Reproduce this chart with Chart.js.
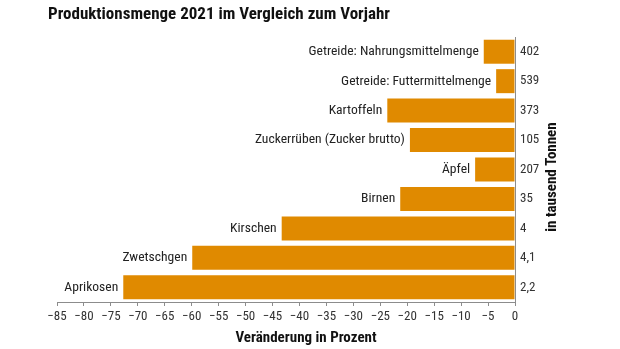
<!DOCTYPE html>
<html>
<head>
<meta charset="utf-8">
<script src="https://cdn.jsdelivr.net/npm/chart.js@4.4.0/dist/chart.umd.min.js"></script>
<style>
  html, body { margin: 0; padding: 0; background: #fff; }
  #wrap { position: relative; width: 620px; height: 349px; }
</style>
</head>
<body>
<div id="wrap"><canvas id="chart"></canvas></div>
<script>
// data
const categories = ['Getreide: Nahrungsmittelmenge', 'Getreide: Futtermittelmenge', 'Kartoffeln',
    'Zuckerrüben (Zucker brutto)', 'Äpfel', 'Birnen', 'Kirschen', 'Zwetschgen', 'Aprikosen'];
const changePercent = [-5.8, -3.5, -23.7, -19.5, -7.4, -21.3, -43.3, -59.9, -72.7];
const tonnes = ['402', '539', '373', '105', '207', '35', '4', '4,1', '2,2'];

const FONT = "'Roboto Condensed', 'DejaVu Sans Condensed', sans-serif";
const barColor = '#e08a00';
const textColor = '#222222';
const axisColor = '#8c8c8c';

// category names sit just left of each bar, titles drawn by hand
const labelPlugin = {
    id: 'labelPlugin',
    afterDatasetsDraw(chart) {
        const ctx = chart.ctx;
        const meta = chart.getDatasetMeta(0);
        ctx.save();
        ctx.font = '13.6px ' + FONT;
        ctx.fillStyle = textColor;
        ctx.textAlign = 'right';
        ctx.textBaseline = 'middle';
        meta.data.forEach((bar, i) => {
            const left = Math.min(bar.x, bar.base);
            ctx.fillText(categories[i], left - 5, bar.y);
        });
        ctx.restore();
    },
    afterDraw(chart) {
        const ctx = chart.ctx;
        ctx.save();
        ctx.fillStyle = '#111';
        ctx.font = 'bold 17px ' + FONT;
        ctx.textAlign = 'left';
        ctx.textBaseline = 'middle';
        ctx.fillText('Produktionsmenge 2021 im Vergleich zum Vorjahr', 48, 15);

        ctx.font = 'bold 15px ' + FONT;
        ctx.textAlign = 'center';
        ctx.fillText('Veränderung in Prozent', 306, 338);

        ctx.translate(552, 177);
        ctx.rotate(-Math.PI / 2);
        ctx.fillText('in tausend Tonnen', 0, 0);
        ctx.restore();
    }
};

const chart = new Chart(document.getElementById('chart'), {
    type: 'bar',
    data: {
        labels: categories,
        datasets: [{
            data: changePercent,
            backgroundColor: barColor,
            borderWidth: 0,
            categoryPercentage: 1,
            barPercentage: 0.815
        }]
    },
    options: {
        indexAxis: 'y',
        responsive: true,
        maintainAspectRatio: false,
        animation: false,
        layout: { padding: { top: 37, left: 57, right: 0, bottom: 0 } },
        plugins: {
            legend: { display: false },
            tooltip: { enabled: false }
        },
        scales: {
            x: {
                min: -85,
                max: 0,
                ticks: {
                    stepSize: 5,
                    padding: 3,
                    color: '#333',
                    font: { family: FONT, size: 13 },
                    maxRotation: 0,
                    autoSkip: false,
                    callback: v => String(v).replace('-', '\u2212')
                },
                grid: { drawOnChartArea: false, drawTicks: true, tickLength: 4, color: axisColor },
                border: { color: axisColor },
                afterFit: s => { s.height = 47; }
            },
            y: {
                position: 'right',
                offset: true,
                ticks: {
                    padding: 5,
                    color: '#333',
                    font: { family: FONT, size: 13 },
                    callback: (v, i) => tonnes[i]
                },
                grid: { display: false, drawTicks: false },
                border: { display: true, color: axisColor },
                afterFit: s => { s.width = 105; }
            }
        }
    },
    plugins: [labelPlugin]
});
</script>
</body>
</html>
